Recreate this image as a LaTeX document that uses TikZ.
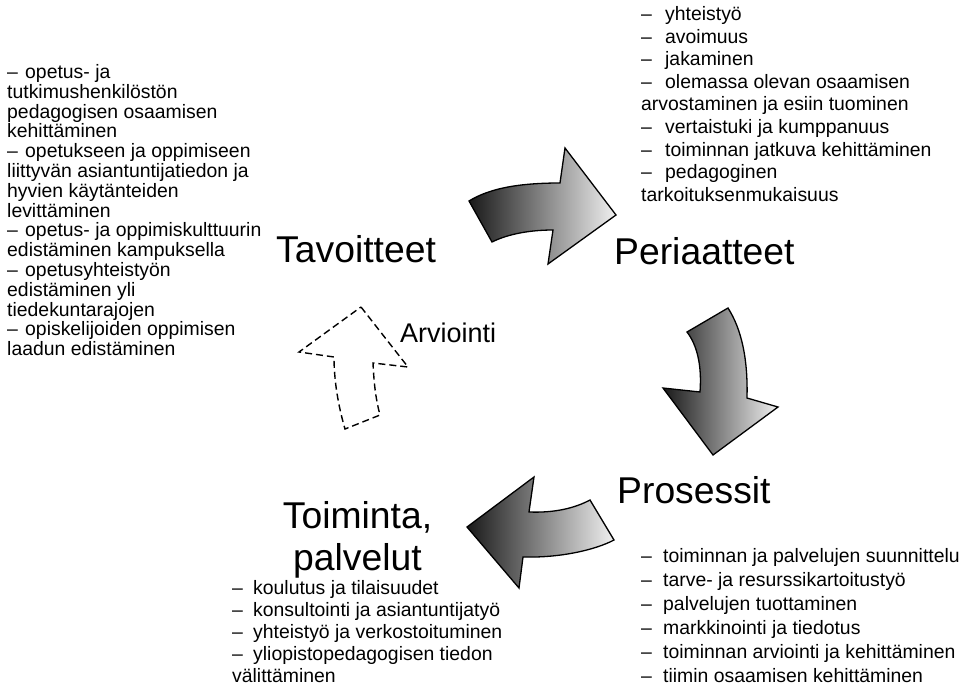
\documentclass[tikz,border=0pt]{standalone}
\usepackage{fontspec}
\setmainfont{Liberation Sans}
\newcommand\dashitem[2]{\makebox[#1][l]{–}#2}
\newcommand\blocklines[1]{\vtop{\lineskiplimit=-100pt\relax\let\\\cr\halign{##\hfil\cr#1\crcr}}}
\begin{document}
\begin{tikzpicture}[x=1pt,y=-1pt,
  biglabel/.style={font=\fontsize{37.3}{42}\selectfont, inner sep=0pt, anchor=base west},
  bigcentre/.style={font=\fontsize{37.3}{42}\selectfont, inner sep=0pt, anchor=base},
  midlabel/.style={font=\fontsize{27}{32}\selectfont, inner sep=0pt, anchor=base west},
  listtxt/.style={inner sep=0pt, anchor=base west},
  turnarrow/.style={draw=black, line width=1.3pt, left color=black!90, right color=black!6, line join=miter},
  evalarrow/.style={draw=black, line width=1.4pt, dash pattern=on 7pt off 4pt, fill=white, line join=miter}]
\useasboundingbox (0,0) rectangle (964,685);
\fill[white] (0,0) rectangle (964,685);

% turning arrows
\shade[turnarrow] (469,201) .. controls (490,188) and (520,183) .. (560,183)
  -- (565,148) -- (616,215) -- (548,264) -- (553,230)
  .. controls (530,230) and (508,234) .. (492,242) -- cycle;
\shade[turnarrow] (687,332) -- (728,308) .. controls (742,330) and (748,360) .. (747,398)
  -- (778,407) -- (713,455) -- (663,388) -- (700,392)
  .. controls (702,365) and (697,345) .. (687,332) -- cycle;
\shade[turnarrow] (467,527) -- (534,477) -- (529,512)
  .. controls (555,513) and (575,508) .. (590,500) -- (614,540)
  .. controls (595,550) and (560,558) .. (523,557) -- (519,588) -- cycle;
% evaluation arrow
\draw[evalarrow] (361,307) -- (408,367) -- (373,363)
  .. controls (374,385) and (376,400) .. (380,415) -- (345,429)
  .. controls (338,405) and (334,380) .. (334,357) -- (299,352) -- cycle;

% big labels
\node[biglabel] (tav) at (276,262) {Tavoitteet};
\node[biglabel] (per) at (614,264) {Periaatteet};
\node[biglabel] (pro) at (617,503) {Prosessit};
\node[bigcentre] (toi) at (357.5,528) {Toiminta,};
\node[bigcentre] (toib) at (357.5,570) {palvelut};
\node[midlabel] (arv) at (400,342) {Arviointi};

% lists
\node[listtxt, font=\fontsize{19.4}{19.8}\selectfont] (tavlist) at (7,78.5) {\blocklines{%
\dashitem{18pt}{opetus- ja}\\
tutkimushenkilöstön\\
pedagogisen osaamisen\\
kehittäminen\\
\dashitem{18pt}{opetukseen ja oppimiseen}\\
liittyvän asiantuntijatiedon ja\\
hyvien käytänteiden\\
levittäminen\\
\dashitem{18pt}{opetus- ja oppimiskulttuurin}\\
edistäminen kampuksella\\
\dashitem{18pt}{opetusyhteistyön}\\
edistäminen yli\\
tiedekuntarajojen\\
\dashitem{18pt}{opiskelijoiden oppimisen}\\
laadun edistäminen}};

\node[listtxt, font=\fontsize{19.4}{22.6}\selectfont] (perlist) at (641,20.5) {\blocklines{%
\dashitem{24pt}{yhteistyö}\\
\dashitem{24pt}{avoimuus}\\
\dashitem{24pt}{jakaminen}\\
\dashitem{24pt}{olemassa olevan osaamisen}\\
arvostaminen ja esiin tuominen\\
\dashitem{24pt}{vertaistuki ja kumppanuus}\\
\dashitem{24pt}{toiminnan jatkuva kehittäminen}\\
\dashitem{24pt}{pedagoginen}\\
tarkoituksenmukaisuus}};

\node[listtxt, font=\fontsize{19.4}{24}\selectfont] (prolist) at (641,562) {\blocklines{%
\dashitem{22pt}{toiminnan ja palvelujen suunnittelu}\\
\dashitem{22pt}{tarve- ja resurssikartoitustyö}\\
\dashitem{22pt}{palvelujen tuottaminen}\\
\dashitem{22pt}{markkinointi ja tiedotus}\\
\dashitem{22pt}{toiminnan arviointi ja kehittäminen}\\
\dashitem{22pt}{tiimin osaamisen kehittäminen}}};

\node[listtxt, font=\fontsize{19.4}{22}\selectfont] (toilist) at (232,594.5) {\blocklines{%
\dashitem{21pt}{koulutus ja tilaisuudet}\\
\dashitem{21pt}{konsultointi ja asiantuntijatyö}\\
\dashitem{21pt}{yhteistyö ja verkostoituminen}\\
\dashitem{21pt}{yliopistopedagogisen tiedon}\\
välittäminen}};
\end{tikzpicture}
\end{document}
